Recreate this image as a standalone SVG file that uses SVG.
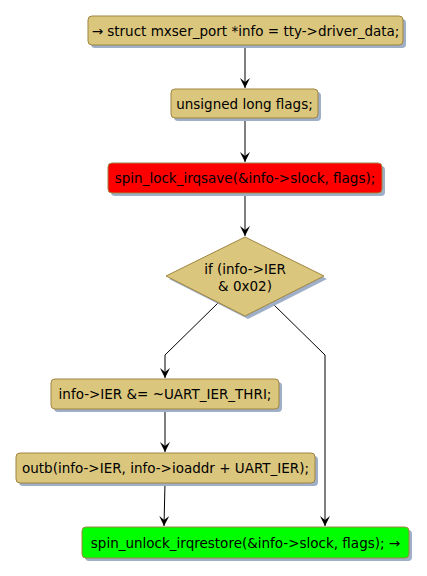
<svg xmlns="http://www.w3.org/2000/svg" width="427" height="576" viewBox="0 0 427 576">
<defs>
<marker id="ah" viewBox="0 0 10 10" refX="10" refY="5" markerWidth="10" markerHeight="10" markerUnits="userSpaceOnUse" orient="auto">
<path d="M0,0 L10,5 L0,10 L4,5 Z" fill="#000"/>
</marker>
</defs>
<style>
.box{stroke:#A08540;stroke-width:1}
.tan{fill:#DBC67D}
.sh{fill:#9FAFC8}
.t{font-family:"DejaVu Sans",sans-serif;font-size:13.5px;fill:#000;text-anchor:middle}
.c{fill:none;stroke:#000;stroke-width:1}
</style>
<rect width="427" height="576" fill="#fff"/>
<g id="connectors">
<path class="c" d="M245,45 V88" marker-end="url(#ah)"/>
<path class="c" d="M245,118 V162" marker-end="url(#ah)"/>
<path class="c" d="M245,193 V236" marker-end="url(#ah)"/>
<path class="c" d="M219,302 L165,355 V378" marker-end="url(#ah)"/>
<path class="c" d="M271,302 L325,355 V526" marker-end="url(#ah)"/>
<path class="c" d="M165,409 V452" marker-end="url(#ah)"/>
<path class="c" d="M165,483 L164,526" marker-end="url(#ah)"/>
</g>
<g id="n1">
<rect class="sh" x="91" y="19" width="315" height="29" rx="4"/>
<rect class="box tan" x="88" y="16" width="315" height="29" rx="4"/>
<text class="t" x="245.5" y="35.5">→ struct mxser_port *info = tty-&gt;driver_data;</text>
</g>
<g id="n2">
<rect class="sh" x="174" y="92" width="147" height="29" rx="4"/>
<rect class="box tan" x="171" y="89" width="147" height="29" rx="4"/>
<text class="t" x="244.5" y="108.5">unsigned long flags;</text>
</g>
<g id="n3">
<rect class="sh" x="111" y="166" width="274" height="30" rx="4"/>
<rect class="box" fill="#FF0000" x="108" y="163" width="274" height="30" rx="4"/>
<text class="t" x="245" y="183">spin_lock_irqsave(&amp;info-&gt;slock, flags);</text>
</g>
<g id="d1">
<polygon class="sh" points="248,240 327,279 248,319 169,279"/>
<polygon class="box tan" points="245,237 324,276 245,316 166,276"/>
<text class="t" x="245" y="274">if (info-&gt;IER</text>
<text class="t" x="245" y="291">&amp; 0x02)</text>
</g>
<g id="n4">
<rect class="sh" x="54" y="382" width="228" height="30" rx="4"/>
<rect class="box tan" x="51" y="379" width="228" height="30" rx="4"/>
<text class="t" x="165" y="399">info-&gt;IER &amp;= ~UART_IER_THRI;</text>
</g>
<g id="n5">
<rect class="sh" x="19" y="456" width="299" height="30" rx="4"/>
<rect class="box tan" x="16" y="453" width="299" height="30" rx="4"/>
<text class="t" x="165.5" y="473">outb(info-&gt;IER, info-&gt;ioaddr + UART_IER);</text>
</g>
<g id="n6">
<rect class="sh" x="85" y="530" width="327" height="31" rx="4"/>
<rect class="box" fill="#00FF00" x="82" y="527" width="327" height="31" rx="4"/>
<text class="t" x="245.5" y="547.5">spin_unlock_irqrestore(&amp;info-&gt;slock, flags); →</text>
</g>
</svg>
